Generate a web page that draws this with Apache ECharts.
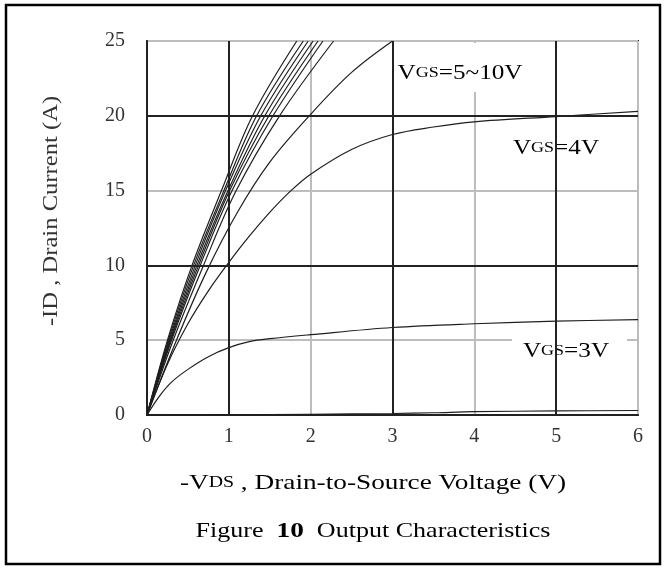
<!DOCTYPE html>
<html><head><meta charset="utf-8">
<script src="https://cdn.jsdelivr.net/npm/echarts/dist/echarts.min.js"></script>
<style>html,body{margin:0;padding:0;background:#fff}#c{width:666px;height:570px}</style>
</head><body><div id="c"></div>
<script>
// Axis ticks
const xTicks = [0, 1, 2, 3, 4, 5, 6];
const yTicks = [0, 5, 10, 15, 20, 25];
const darkGridX = [1, 3, 5];
const darkGridY = [10, 20];

// Curves: [-VDS (V), -ID (A)]
const vgsCluster1 = [[0,0],[0.25,5],[0.55,10],[0.91,15],[1.29,20],[1.83,25]];
const vgsCluster2 = [[0,0],[0.26,5],[0.57,10],[0.94,15],[1.34,20],[1.91,25]];
const vgsCluster3 = [[0,0],[0.27,5],[0.59,10],[0.96,15],[1.39,20],[1.97,25]];
const vgsCluster4 = [[0,0],[0.28,5],[0.61,10],[0.99,15],[1.44,20],[2.03,25]];
const vgsCluster5 = [[0,0],[0.29,5],[0.63,10],[1.01,15],[1.49,20],[2.09,25]];
const vgsCluster6 = [[0,0],[0.30,5],[0.65,10],[1.04,15],[1.54,20],[2.15,25]];
const vgsCluster7 = [[0,0],[0.32,5],[0.69,10],[1.09,15],[1.62,20],[2.28,25]];
const vgs5 = [[0,0],[0.36,5],[0.72,9.5],[1.1,13.5],[1.5,16.9],[2.0,20.1],[2.5,22.9],[3.0,25]];
const vgs4 = [[0,0],[0.25,3.4],[0.5,6.1],[0.75,8.3],[1.0,10.2],[1.25,11.95],[1.5,13.55],[1.75,14.95],[2.0,16.1],[2.5,17.75],[3,18.75],[3.5,19.25],[4,19.6],[5,19.95],[6,20.3]];
const vgs3 = [[0,0],[0.15,1.25],[0.3,2.2],[0.5,3.05],[0.75,3.9],[1,4.5],[1.25,4.9],[1.5,5.1],[2,5.37],[3,5.85],[4,6.1],[5,6.27],[6,6.38]];
const vgsLow = [[0,0],[1,0.02],[2,0.05],[3,0.1],[3.5,0.15],[4,0.22],[5,0.27],[6,0.3]];

const curves = [
  ['Cluster1', vgsCluster1], ['Cluster2', vgsCluster2], ['Cluster3', vgsCluster3],
  ['Cluster4', vgsCluster4], ['Cluster5', vgsCluster5], ['Cluster6', vgsCluster6],
  ['Cluster7', vgsCluster7], ['VGS5', vgs5], ['VGS4', vgs4], ['VGS3', vgs3], ['VGSlow', vgsLow]
];

const serif = 'Liberation Serif';
const chart = echarts.init(document.getElementById('c'), null, {renderer: 'canvas'});

const series = curves.map(([name, d]) => ({
  name, type: 'line', data: d, showSymbol: false, smooth: 0.35, z: 3,
  lineStyle: {color: '#1e1e1e', width: 1.2}, animation: false, silent: true
}));
series.push({
  name: 'darkgrid', type: 'line', data: [[0,0]], showSymbol: false, z: 1,
  lineStyle: {opacity: 0}, animation: false, silent: true,
  markLine: {
    silent: true, symbol: ['none','none'], label: {show: false}, animation: false,
    lineStyle: {color: '#222', width: 2, type: 'solid'},
    data: darkGridX.map(v => ({xAxis: v})).concat(darkGridY.map(v => ({yAxis: v})))
  }
});

const labelRich = {
  a: {fontFamily: serif, fontSize: 21, color: '#333'},
  b: {fontFamily: serif, fontSize: 15, color: '#333'}
};

chart.setOption({
  backgroundColor: '#fff',
  animation: false,
  grid: {left: 147, top: 41, right: 28, bottom: 155, show: true, borderColor: '#222', borderWidth: 2},
  xAxis: {
    type: 'value', min: xTicks[0], max: xTicks[xTicks.length-1], interval: 1,
    axisLine: {show: true, onZero: false, lineStyle: {color: '#222', width: 2}},
    axisTick: {show: false},
    axisLabel: {fontFamily: serif, fontSize: 20, color: '#333', margin: 12},
    splitLine: {show: true, lineStyle: {color: '#bdbdbd', width: 2}}
  },
  yAxis: {
    type: 'value', min: yTicks[0], max: yTicks[yTicks.length-1], interval: 5,
    axisLine: {show: true, onZero: false, lineStyle: {color: '#222', width: 2}},
    axisTick: {show: false},
    axisLabel: {fontFamily: serif, fontSize: 20, color: '#333', margin: 22},
    splitLine: {show: true, lineStyle: {color: '#bdbdbd', width: 2}}
  },
  series,
  graphic: [
    {type: 'rect', z: 10, shape: {x: 6, y: 5, width: 654, height: 559}, style: {fill: 'none', stroke: '#000', lineWidth: 2.5}, silent: true},
    {type: 'rect', z: 2, shape: {x: 386, y: 43, width: 150, height: 49}, style: {fill: '#fff'}, silent: true},
    {type: 'rect', z: 2, shape: {x: 505, y: 128, width: 105, height: 40}, style: {fill: '#fff'}, silent: true},
    {type: 'rect', z: 2, shape: {x: 512, y: 330, width: 115, height: 40}, style: {fill: '#fff'}, silent: true},
    {type: 'text', z: 5, x: 460, y: 73, scaleX: 1.2, style: {text: '{a|V}{b|GS}{a|=5~10V}', rich: labelRich, align: 'center', verticalAlign: 'middle'}, silent: true},
    {type: 'text', z: 5, x: 556, y: 148, scaleX: 1.2, style: {text: '{a|V}{b|GS}{a|=4V}', rich: labelRich, align: 'center', verticalAlign: 'middle'}, silent: true},
    {type: 'text', z: 5, x: 566, y: 351, scaleX: 1.2, style: {text: '{a|V}{b|GS}{a|=3V}', rich: labelRich, align: 'center', verticalAlign: 'middle'}, silent: true},
    {type: 'text', z: 5, x: 52, y: 211, rotation: Math.PI/2, scaleX: 1.23, style: {text: '-ID , Drain Current (A)', fontFamily: serif, fontSize: 20, fill: '#333', align: 'center', verticalAlign: 'middle'}, silent: true},
    {type: 'text', z: 5, x: 373, y: 483, scaleX: 1.24, style: {text: '{a|-V}{b|DS}{a| , Drain-to-Source Voltage (V)}', rich: {a: {fontFamily: serif, fontSize: 22, color: '#333'}, b: {fontFamily: serif, fontSize: 16, color: '#333'}}, align: 'center', verticalAlign: 'middle'}, silent: true},
    {type: 'text', z: 5, x: 373, y: 531, scaleX: 1.24, style: {text: '{a|Figure  }{c|10}{a|  Output Characteristics}', rich: {a: {fontFamily: serif, fontSize: 21, color: '#444'}, c: {fontFamily: serif, fontSize: 22, fontWeight: 'bold', color: '#000'}}, align: 'center', verticalAlign: 'middle'}, silent: true}
  ]
});
</script></body></html>
